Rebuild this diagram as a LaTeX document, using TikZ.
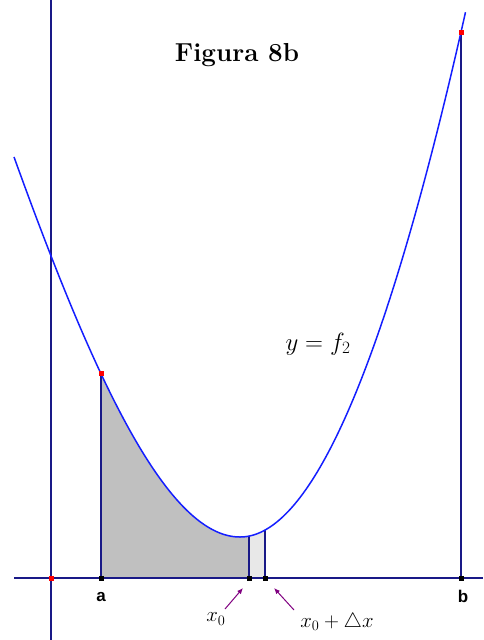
\documentclass[tikz,border=0pt]{standalone}
\usepackage{fontspec}
\usetikzlibrary{arrows.meta}
\newfontfamily\labfont{Liberation Sans}
\definecolor{navyline}{RGB}{25,25,135}
\definecolor{curveblue}{RGB}{20,30,255}
\definecolor{shadegray}{RGB}{192,192,192}
\definecolor{lightshade}{RGB}{232,232,232}
\definecolor{arrpurple}{RGB}{128,0,128}
\begin{document}
\begin{tikzpicture}[x=1pt,y=-1pt,
  declare function={
    fl(\t)=537-(100.6*((240-\t)/100)^2-11.59*((240-\t)/100)^3);
    fr(\t)=537-(112*((\t-240)/100)^2-3.9*((\t-240)/100)^3);
  },
  axisline/.style={navyline,line width=1.8pt},
  vline/.style={navyline,line width=1.6pt},
  curveline/.style={curveblue,line width=1.5pt},
  blackpt/.style={rectangle,fill=black,inner sep=0pt,minimum size=5pt},
  redpt/.style={rectangle,fill=red,inner sep=0pt,minimum size=5pt},
  endlab/.style={font=\labfont\bfseries\fontsize{17}{19}\selectfont},
  mathlab/.style={font=\fontsize{20}{22}\selectfont},
  pointer/.style={arrpurple,line width=1pt,-{Latex[length=6pt,width=5pt]}}
]
\useasboundingbox (0,0) rectangle (483,640);
% shaded areas
\fill[shadegray] plot[domain=101:240,samples=60] (\x,{fl(\x)}) -- plot[domain=240:249,samples=5] (\x,{fr(\x)}) -- (249,578) -- (101,578) -- cycle;
\fill[lightshade] plot[domain=249:265,samples=8] (\x,{fr(\x)}) -- (265,578) -- (249,578) -- cycle;
% coordinates
\coordinate (xl) at (14,578);
\coordinate (xr) at (483,578);
\coordinate (yt) at (51,0);
\coordinate (yb) at (51,640);
\coordinate (fa) at (101,{fl(101)});
\coordinate (fx0) at (249,{fr(249)});
\coordinate (fx1) at (265,{fr(265)});
\coordinate (fb) at (461,{fr(461)});
\coordinate (pa) at (101,578);
\coordinate (px0) at (249,578);
\coordinate (px1) at (265,578);
\coordinate (pb) at (461,578);
% axes
\draw[axisline] (xl) -- (xr);
\draw[axisline] (yt) -- (yb);
% verticals
\draw[vline] (pa) -- (fa);
\draw[vline] (px0) -- (fx0);
\draw[vline] (px1) -- (fx1);
\draw[vline] (pb) -- (fb);
% curve
\draw[curveline] plot[domain=14:240,samples=100] (\x,{fl(\x)}) -- plot[domain=240:465.5,samples=100] (\x,{fr(\x)});
% points
\node[redpt] (origin) at (51,578) {};
\node[redpt] (ptfa) at (fa) {};
\node[redpt] (ptfb) at (fb) {};
\node[blackpt] (pta) at (pa) {};
\node[blackpt] (ptx0) at (px0) {};
\node[blackpt] (ptx1) at (px1) {};
\node[blackpt] (ptb) at (pb) {};
% labels
\node[font=\bfseries\fontsize{26}{28}\selectfont,anchor=base] (title) at (237,61) {Figura 8b};
\node[endlab] (la) at (101,597) {a};
\node[endlab] (lb) at (463,596) {b};
\node[mathlab] (lx0) at (216,619) {$x_0$};
\node[mathlab] (lx1) at (337,622) {$x_0+\triangle x$};
\node[font=\fontsize{23}{25}\selectfont] (lf) at (318,344) {$y=f_2$};
% pointers
\coordinate (s0) at (225,609);
\coordinate (e0) at (243,588);
\coordinate (s1) at (294,610);
\coordinate (e1) at (274,588);
\draw[pointer] (s0) -- (e0);
\draw[pointer] (s1) -- (e1);
\end{tikzpicture}
\end{document}
